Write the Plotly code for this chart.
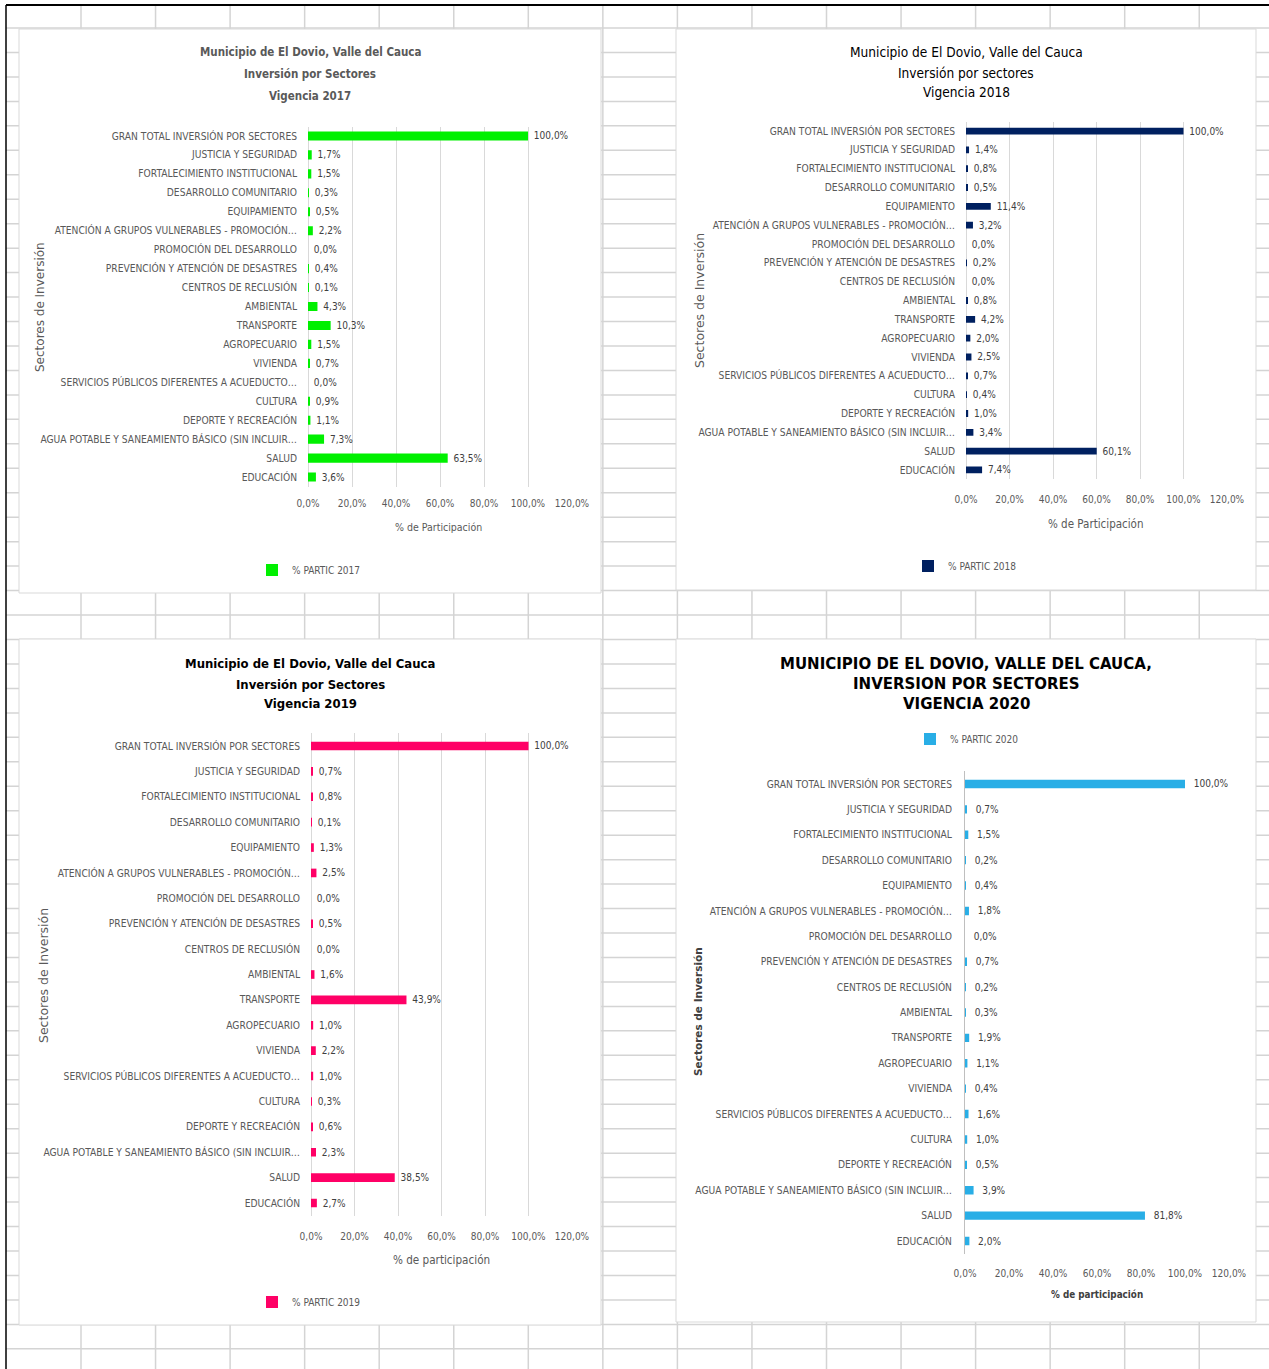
import plotly.graph_objects as go

W, H = 1269, 1369

categories = [
    "GRAN TOTAL INVERSIÓN POR SECTORES",
    "JUSTICIA Y SEGURIDAD",
    "FORTALECIMIENTO INSTITUCIONAL",
    "DESARROLLO COMUNITARIO",
    "EQUIPAMIENTO",
    "ATENCIÓN A GRUPOS VULNERABLES - PROMOCIÓN…",
    "PROMOCIÓN DEL DESARROLLO",
    "PREVENCIÓN Y ATENCIÓN DE DESASTRES",
    "CENTROS DE RECLUSIÓN",
    "AMBIENTAL",
    "TRANSPORTE",
    "AGROPECUARIO",
    "VIVIENDA",
    "SERVICIOS PÚBLICOS DIFERENTES A ACUEDUCTO…",
    "CULTURA",
    "DEPORTE Y RECREACIÓN",
    "AGUA POTABLE Y SANEAMIENTO BÁSICO (SIN INCLUIR…",
    "SALUD",
    "EDUCACIÓN",
]

partic_2017 = [100.0, 1.7, 1.5, 0.3, 0.5, 2.2, 0.0, 0.4, 0.1, 4.3, 10.3, 1.5, 0.7, 0.0, 0.9, 1.1, 7.3, 63.5, 3.6]
partic_2018 = [100.0, 1.4, 0.8, 0.5, 11.4, 3.2, 0.0, 0.2, 0.0, 0.8, 4.2, 2.0, 2.5, 0.7, 0.4, 1.0, 3.4, 60.1, 7.4]
partic_2019 = [100.0, 0.7, 0.8, 0.1, 1.3, 2.5, 0.0, 0.5, 0.0, 1.6, 43.9, 1.0, 2.2, 1.0, 0.3, 0.6, 2.3, 38.5, 2.7]
partic_2020 = [100.0, 0.7, 1.5, 0.2, 0.4, 1.8, 0.0, 0.7, 0.2, 0.3, 1.9, 1.1, 0.4, 1.6, 1.0, 0.5, 3.9, 81.8, 2.0]

series_names = ["% PARTIC 2017", "% PARTIC 2018", "% PARTIC 2019", "% PARTIC 2020"]
x_tick_values = [0, 20, 40, 60, 80, 100, 120]
x_tick_labels = [f"{v:.1f}%".replace(".", ",") for v in x_tick_values]

NARROW = "DejaVu Sans Condensed, Liberation Sans, sans-serif"
WIDE = "DejaVu Sans, Open Sans, sans-serif"
GREY = "#595959"
NBSP = "\u00a0"


def px_x(x):
    return x / W


def px_y(y):
    return 1 - y / H


panels = [
    dict(values=partic_2017, name=series_names[0], color="#00F000", bw=0.48, pad=1,
         x0=308, x1=572, y0=126.5, y1=486.5, grid=True, yline=False,
         title=["Municipio de El Dovio, Valle del Cauca", "Inversión por Sectores", "Vigencia 2017"],
         title_pos=(310, [52, 74, 96]), title_font=dict(family=NARROW, size=11.5, color=GREY), title_bold=True,
         xtitle="% de Participación", xtitle_pos=(438, 527), xtitle_bold=False, xtitle_size=10.5,
         ytitle_pos=(40, 307), ytitle_bold=False, ytitle_size=12,
         legend_left=252, legend_y=570, tick_standoff=9),
    dict(values=partic_2018, name=series_names[1], color="#002060", bw=0.36, pad=1,
         x0=966, x1=1227, y0=121.6, y1=479.4, grid=True, yline=False,
         title=["Municipio de El Dovio, Valle del Cauca", "Inversión por sectores", "Vigencia 2018"],
         title_pos=(966, [52, 73, 92]), title_font=dict(family=NARROW, size=13.6, color="#000000"), title_bold=False,
         xtitle="% de Participación", xtitle_pos=(1096, 524), xtitle_bold=False, xtitle_size=11.5,
         ytitle_pos=(699, 301), ytitle_bold=False, ytitle_size=12.5,
         legend_left=908, legend_y=566, tick_standoff=13),
    dict(values=partic_2019, name=series_names[2], color="#FF0066", bw=0.34, pad=1,
         x0=311, x1=572, y0=733.3, y1=1215.7, grid=True, yline=False,
         title=["Municipio de El Dovio, Valle del Cauca", "Inversión por Sectores", "Vigencia 2019"],
         title_pos=(310, [663, 684, 704]), title_font=dict(family=NARROW, size=13, color="#000000"), title_bold=True,
         xtitle="% de participación", xtitle_pos=(441, 1260), xtitle_bold=False, xtitle_size=11.6,
         ytitle_pos=(43, 976), ytitle_bold=False, ytitle_size=12.5,
         legend_left=252, legend_y=1302, tick_standoff=13),
    dict(values=partic_2020, name=series_names[3], color="#29AEE6", bw=0.33, pad=2,
         x0=965, x1=1229, y0=771.3, y1=1253.7, grid=False, yline=True,
         title=["MUNICIPIO DE EL DOVIO, VALLE DEL CAUCA,", "INVERSION POR SECTORES", "VIGENCIA 2020"],
         title_pos=(966, [664, 684, 704]), title_font=dict(family=WIDE, size=15, color="#000000"), title_bold=True,
         xtitle="% de participación", xtitle_pos=(1097, 1294), xtitle_bold=True, xtitle_size=9.8,
         ytitle_pos=(698, 1012), ytitle_bold=True, ytitle_size=10.5,
         legend_left=910, legend_y=739, tick_standoff=12),
]

fig = go.Figure()
shapes = []
annotations = []

# spreadsheet background grid
GRIDC = "#d4d4d4"
row_step = 24.46
for k in range(0, 56):
    y = 28 + row_step * k
    if y > H:
        break
    shapes.append(dict(type="line", xref="paper", yref="paper", layer="below",
                       x0=px_x(6), x1=1, y0=px_y(y), y1=px_y(y),
                       line=dict(color=GRIDC, width=1.5)))
col_step = 74.55
for k in range(0, 17):
    x = 81 + col_step * k
    if x > W:
        break
    shapes.append(dict(type="line", xref="paper", yref="paper", layer="below",
                       x0=px_x(x), x1=px_x(x), y0=px_y(5), y1=0,
                       line=dict(color=GRIDC, width=1.5)))
shapes.append(dict(type="line", xref="paper", yref="paper", layer="below",
                   x0=px_x(6), x1=1, y0=px_y(5), y1=px_y(5), line=dict(color="#000000", width=2)))
shapes.append(dict(type="line", xref="paper", yref="paper", layer="below",
                   x0=px_x(6), x1=px_x(6), y0=px_y(5), y1=0, line=dict(color="#000000", width=1.5)))

# panel boxes
boxes = [(19, 29, 601, 593), (676, 29, 1256, 590), (19, 639, 601, 1325), (676, 639, 1256, 1322)]
for (bx0, by0, bx1, by1) in boxes:
    shapes.append(dict(type="rect", xref="paper", yref="paper", layer="below",
                       x0=px_x(bx0), x1=px_x(bx1), y0=px_y(by1), y1=px_y(by0),
                       fillcolor="#ffffff", line=dict(color="#d9d9d9", width=1)))

layout_axes = {}
for i, p in enumerate(panels, start=1):
    xa = "x" if i == 1 else f"x{i}"
    ya = "y" if i == 1 else f"y{i}"
    lg = "legend" if i == 1 else f"legend{i}"
    fig.add_trace(go.Bar(
        x=p["values"], y=categories, orientation="h",
        marker=dict(color=p["color"], line=dict(width=0)),
        width=p["bw"], name=p["name"],
        texttemplate=NBSP * p["pad"] + "%{x:.1f}%", textposition="outside", constraintext="none",
        textfont=dict(family=NARROW, size=10, color="#404040"),
        cliponaxis=False, xaxis=xa, yaxis=ya, legend=lg, showlegend=True,
        hoverinfo="skip",
    ))
    xkey = "xaxis" if i == 1 else f"xaxis{i}"
    ykey = "yaxis" if i == 1 else f"yaxis{i}"
    layout_axes[xkey] = dict(
        domain=[px_x(p["x0"]), px_x(p["x1"])], range=[0, 120], anchor=ya,
        tickmode="array", tickvals=x_tick_values, ticktext=x_tick_labels,
        showgrid=p["grid"], gridcolor="#d9d9d9", gridwidth=1,
        zeroline=p["grid"], zerolinecolor="#d9d9d9", zerolinewidth=1,
        showline=False, ticks="", ticklabelstandoff=p["tick_standoff"],
        tickfont=dict(family=NARROW, size=10, color=GREY), fixedrange=True,
        automargin=False,
    )
    layout_axes[ykey] = dict(
        domain=[px_y(p["y1"]), px_y(p["y0"])], anchor=xa,
        type="category", autorange=False, range=[len(categories) - 0.5, -0.5],
        showgrid=False, zeroline=False, ticks="",
        showline=p["yline"], linecolor="#bfbfbf", linewidth=1,
        ticklabelstandoff=10,
        tickfont=dict(family=NARROW, size=10.2, color=GREY), fixedrange=True,
        automargin=False,
    )
    layout_axes[lg] = dict(
        x=px_x(p["legend_left"]), y=px_y(p["legend_y"]),
        xanchor="left", yanchor="middle", bgcolor="rgba(0,0,0,0)",
        font=dict(family=NARROW, size=10, color=GREY),
        itemwidth=30, borderwidth=0,
    )
    # titles
    tx, tys = p["title_pos"]
    for line, ty in zip(p["title"], tys):
        txt = f"<b>{line}</b>" if p["title_bold"] else line
        annotations.append(dict(text=txt, x=px_x(tx), y=px_y(ty), xref="paper", yref="paper",
                                xanchor="center", yanchor="middle", showarrow=False,
                                font=p["title_font"]))
    # x axis title
    xt = p["xtitle"]
    annotations.append(dict(text=f"<b>{xt}</b>" if p["xtitle_bold"] else xt,
                            x=px_x(p["xtitle_pos"][0]), y=px_y(p["xtitle_pos"][1]),
                            xref="paper", yref="paper", xanchor="center", yanchor="middle",
                            showarrow=False,
                            font=dict(family=NARROW, size=p["xtitle_size"],
                                      color="#404040" if p["xtitle_bold"] else GREY)))
    # y axis title
    yt = "Sectores de Inversión"
    annotations.append(dict(text=f"<b>{yt}</b>" if p["ytitle_bold"] else yt,
                            x=px_x(p["ytitle_pos"][0]), y=px_y(p["ytitle_pos"][1]),
                            xref="paper", yref="paper", xanchor="center", yanchor="middle",
                            textangle=-90, showarrow=False,
                            font=dict(family=WIDE, size=p["ytitle_size"],
                                      color=GREY if not p["ytitle_bold"] else "#404040")))

fig.update_layout(
    width=W, height=H, margin=dict(l=0, r=0, t=0, b=0, pad=0, autoexpand=False),
    paper_bgcolor="#ffffff", plot_bgcolor="rgba(0,0,0,0)",
    separators=",.", bargap=0.5,
    shapes=shapes, annotations=annotations,
    **layout_axes,
)

fig.write_html("out.html", config={"displayModeBar": False},
               post_script="document.body.style.margin='0px';document.body.style.overflow='hidden';")
